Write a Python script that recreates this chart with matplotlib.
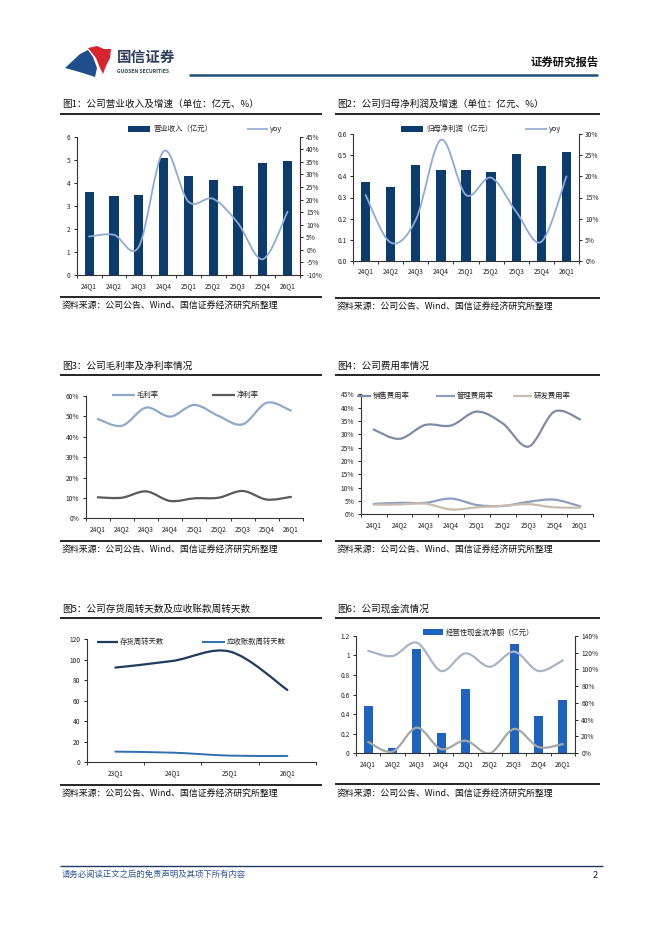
import matplotlib
matplotlib.use("Agg")
import matplotlib.pyplot as plt
import numpy as np
from matplotlib.path import Path
from matplotlib.patches import PathPatch, Rectangle, Polygon
from matplotlib.lines import Line2D

plt.rcParams['font.family'] = ['Noto Sans CJK SC', 'DejaVu Sans']
plt.rcParams['axes.unicode_minus'] = False

# ---------------- data ----------------
quarters = ['24Q1', '24Q2', '24Q3', '24Q4', '25Q1', '25Q2', '25Q3', '25Q4', '26Q1']

revenue = [3.60, 3.42, 3.48, 5.07, 4.30, 4.12, 3.86, 4.88, 4.95]
revenue_yoy = [5.3, 6.0, 1.2, 39.2, 19.2, 20.3, 10.6, -3.7, 15.2]

net_profit = [0.372, 0.351, 0.454, 0.432, 0.430, 0.420, 0.507, 0.451, 0.518]
net_profit_yoy = [15.6, 4.3, 9.7, 28.7, 15.6, 19.7, 11.6, 4.5, 20.0]

gross_margin = [48.7, 45.4, 54.3, 49.9, 55.6, 50.2, 46.1, 56.7, 52.8]
net_margin = [10.3, 10.1, 13.2, 8.5, 9.8, 10.1, 13.4, 9.2, 10.5]

selling_rate = [31.8, 28.3, 33.5, 33.3, 38.5, 34.1, 25.4, 38.5, 35.6]
admin_rate = [3.9, 4.3, 4.3, 5.9, 3.5, 3.1, 4.7, 5.5, 3.0]
rd_rate = [3.6, 3.7, 4.0, 1.8, 2.6, 3.2, 3.8, 2.6, 2.5]

turnover_periods = ['23Q1', '24Q1', '25Q1', '26Q1']
inventory_days = [92.4, 98.9, 108.0, 70.6]
receivable_days = [10.4, 9.4, 6.5, 6.2]

op_cashflow = [0.483, 0.051, 1.064, 0.211, 0.653, 0.0, 1.111, 0.377, 0.544]
cash_ratio_upper = [122.0, 115.8, 131.7, 98.0, 119.0, 103.0, 121.0, 98.0, 110.6]
cash_ratio_lower = [13.5, 2.0, 30.5, 5.0, 15.0, 0.0, 29.0, 7.5, 11.0]

# ---------------- figure helpers ----------------
W, H = 662, 936
fig = plt.figure(figsize=(W / 100, H / 100), dpi=100)
fig.patch.set_facecolor('white')


def fx(x):
    return x / W


def fy(y):
    return 1 - y / H


def add_axes(x0, y0, x1, y1):
    return fig.add_axes([fx(x0), fy(y1), (x1 - x0) / W, (y1 - y0) / H])


def hline(x0, x1, y, color='black', lw=1.0):
    fig.add_artist(Line2D([fx(x0), fx(x1)], [fy(y), fy(y)], color=color, lw=lw,
                          transform=fig.transFigure, solid_capstyle='butt'))


def text(x, y, s, size=6.5, color='black', ha='left', va='center', **kw):
    fig.text(fx(x), fy(y), s, fontsize=size, color=color, ha=ha, va=va, **kw)


def legend_line(x0, x1, y, label, color, lw=1.5):
    hline(x0, x1, y, color=color, lw=lw)
    text(x1 + 2, y, label, size=5.3, color='#222222')


def legend_bar(x0, x1, y, label, color):
    fig.add_artist(Rectangle((fx(x0), fy(y + 3)), (x1 - x0) / W, 6 / H,
                             facecolor=color, edgecolor='none', transform=fig.transFigure))
    text(x1 + 3, y, label, size=5.3, color='#222222')


def smooth(ax, xs, ys, color, lw=1.5, zorder=3):
    pts = np.column_stack([np.asarray(xs, float), np.asarray(ys, float)])
    n = len(pts)
    verts = [pts[0]]
    codes = [Path.MOVETO]
    for i in range(n - 1):
        p0 = pts[i - 1] if i > 0 else pts[i]
        p1 = pts[i]
        p2 = pts[i + 1]
        p3 = pts[i + 2] if i + 2 < n else pts[i + 1]
        c1 = p1 + (p2 - p0) / 6.0
        c2 = p2 - (p3 - p1) / 6.0
        verts += [c1, c2, p2]
        codes += [Path.CURVE4] * 3
    patch = PathPatch(Path(verts, codes), facecolor='none', edgecolor=color,
                      lw=lw, zorder=zorder, capstyle='round', joinstyle='round')
    ax.add_patch(patch)
    return patch


TICK_FS = 4.8
SPINE_C = '#333333'


def style_axes(ax, ncat, right=False):
    for s in ['top', 'right']:
        ax.spines[s].set_visible(False)
    ax.spines['left'].set_color(SPINE_C)
    ax.spines['bottom'].set_color(SPINE_C)
    ax.spines['left'].set_linewidth(0.8)
    ax.spines['bottom'].set_linewidth(0.8)
    ax.set_xlim(-0.5, ncat - 0.5)
    ax.set_xticks(np.arange(ncat))
    ax.set_xticks(np.arange(ncat + 1) - 0.5, minor=True)
    ax.tick_params(axis='x', which='major', length=0, labelsize=TICK_FS, pad=5, colors='#222222')
    ax.tick_params(axis='x', which='minor', length=2.5, width=0.7, color=SPINE_C, direction='out')
    ax.tick_params(axis='y', length=2.5, width=0.7, labelsize=TICK_FS, pad=2, colors='#222222',
                   direction='out')
    ax.patch.set_alpha(0)


def style_twin(ax2):
    for s in ['top', 'left', 'bottom']:
        ax2.spines[s].set_visible(False)
    ax2.spines['right'].set_color(SPINE_C)
    ax2.spines['right'].set_linewidth(0.8)
    ax2.tick_params(axis='y', length=2.5, width=0.7, labelsize=TICK_FS, pad=2, colors='#222222',
                    direction='out')


def pct_labels(vals):
    return [f'{v:g}%' for v in vals]


SRC = '资料来源：公司公告、Wind、国信证券经济研究所整理'

# ---------------- header ----------------
fig.add_artist(Polygon([(fx(65), fy(68)), (fx(80), fy(54)), (fx(88), fy(50)), (fx(93), fy(57)),
                        (fx(97), fy(68)), (fx(95), fy(77)), (fx(86), fy(74)), (fx(76), fy(71))],
                       closed=True, facecolor='#1F4E8C', edgecolor='none', transform=fig.transFigure))
fig.add_artist(Polygon([(fx(88), fy(48)), (fx(97), fy(46)), (fx(104), fy(49)), (fx(111), fy(49)),
                        (fx(110), fy(58)), (fx(106), fy(66)), (fx(103), fy(74)), (fx(100), fy(68)),
                        (fx(96), fy(58))],
                       closed=True, facecolor='#D7242E', edgecolor='none', transform=fig.transFigure))
text(117, 57, '国信证券', size=10.5, color='#2C3E5C', weight='bold')
text(117, 71.5, 'GUOSEN SECURITIES', size=3.6, color='#2C3E5C', weight='bold')
text(599, 62.5, '证券研究报告', size=8.2, color='#111111', ha='right', weight='bold')
hline(189, 598, 75, color='#1F4E79', lw=1.8)

# ---------------- footer ----------------
hline(60, 603, 866, color='#1F3864', lw=1.0)
text(62, 874, '请务必阅读正文之后的免责声明及其项下所有内容', size=6.0, color='#2F5597', style='italic')
text(598, 875, '2', size=6.5, color='#222222', ha='right')


def frame(x0, x1, title_y, title_line_y, src_line_y, src_y, title):
    text(x0 + 2, title_y, title, size=6.9, color='#111111')
    hline(x0, x1, title_line_y, color='black', lw=1.2)
    hline(x0, x1, src_line_y, color='black', lw=1.2)
    text(x0 + 2, src_y, SRC, size=6.4, color='#111111')


# ---------------- chart 1 ----------------
frame(60, 322, 104, 113.5, 296.5, 306.5, '图1：公司营业收入及增速（单位：亿元、%）')
ax1 = add_axes(76.7, 136.7, 300, 275)
x = np.arange(len(quarters))
ax1.bar(x, revenue, width=0.37, color='#0C3C6E', zorder=2)
ax1.set_ylim(0, 6)
ax1.set_yticks(np.arange(0, 7, 1))
style_axes(ax1, len(quarters))
ax1.set_xticklabels(quarters)
ax1b = ax1.twinx()
ax1b.set_ylim(-10, 45)
ax1b.set_yticks(np.arange(-10, 50, 5))
ax1b.set_yticklabels(pct_labels(np.arange(-10, 50, 5)))
style_twin(ax1b)
smooth(ax1b, x, revenue_yoy, '#8FAAD6', lw=1.3)
legend_bar(128, 150, 129, '营业收入（亿元）', '#0C3C6E')
legend_line(247, 268, 129, 'yoy', '#8FAAD6', lw=1.2)

# ---------------- chart 2 ----------------
frame(335, 600, 104, 113.5, 297.5, 307, '图2：公司归母净利润及增速（单位：亿元、%）')
ax2 = add_axes(353, 134.3, 579, 260.7)
ax2.bar(x, net_profit, width=0.37, color='#0C3C6E', zorder=2)
ax2.set_ylim(0, 0.6)
ax2.set_yticks(np.arange(0, 0.61, 0.1))
ax2.set_yticklabels([f'{v:.1f}' for v in np.arange(0, 0.61, 0.1)])
style_axes(ax2, len(quarters))
ax2.set_xticklabels(quarters)
ax2b = ax2.twinx()
ax2b.set_ylim(0, 30)
ax2b.set_yticks(np.arange(0, 31, 5))
ax2b.set_yticklabels(pct_labels(np.arange(0, 31, 5)))
style_twin(ax2b)
smooth(ax2b, x, net_profit_yoy, '#8FAAD6', lw=1.3)
legend_bar(401, 423, 129, '归母净利润（亿元）', '#0C3C6E')
legend_line(525, 547, 129, 'yoy', '#8FAAD6', lw=1.2)

# ---------------- chart 3 ----------------
frame(60, 322, 366, 375, 541, 550, '图3：公司毛利率及净利率情况')
ax3 = add_axes(85.7, 396, 303, 518.3)
ax3.set_ylim(0, 60)
ax3.set_yticks(np.arange(0, 61, 10))
ax3.set_yticklabels(pct_labels(np.arange(0, 61, 10)))
style_axes(ax3, len(quarters))
ax3.set_xticklabels(quarters)
smooth(ax3, x, gross_margin, '#8EA9CB', lw=1.6)
smooth(ax3, x, net_margin, '#5A5A5A', lw=1.6)
legend_line(112, 135, 395, '毛利率', '#8EA9CB', lw=1.6)
legend_line(212, 235, 395, '净利率', '#5A5A5A', lw=1.6)

# ---------------- chart 4 ----------------
frame(335, 600, 366, 375, 541, 550, '图4：公司费用率情况')
ax4 = add_axes(360.7, 394.3, 593, 514.3)
ax4.set_ylim(0, 45)
ax4.set_yticks(np.arange(0, 46, 5))
ax4.set_yticklabels(pct_labels(np.arange(0, 46, 5)))
style_axes(ax4, len(quarters))
ax4.set_xticklabels(quarters)
smooth(ax4, x, selling_rate, '#7D8BA6', lw=1.6)
smooth(ax4, x, admin_rate, '#8D9FBC', lw=1.6)
smooth(ax4, x, rd_rate, '#C8BCAC', lw=1.6)
legend_line(357, 371, 395.5, '销售费用率', '#7D8BA6', lw=1.6)
legend_line(436, 455, 395.5, '管理费用率', '#8D9FBC', lw=1.6)
legend_line(513, 532, 395.5, '研发费用率', '#C8BCAC', lw=1.6)

# ---------------- chart 5 ----------------
frame(60, 322, 609, 617.5, 785, 794, '图5：公司存货周转天数及应收账款周转天数')
ax5 = add_axes(86.7, 639.3, 316, 762.3)
x5 = np.arange(len(turnover_periods))
ax5.set_ylim(0, 120)
ax5.set_yticks(np.arange(0, 121, 20))
style_axes(ax5, len(turnover_periods))
ax5.set_xticklabels(turnover_periods)
smooth(ax5, x5, inventory_days, '#1F3A5F', lw=1.6)
smooth(ax5, x5, receivable_days, '#2E6FAF', lw=1.4)
legend_line(97, 118, 642.3, '存货周转天数', '#1F3A5F', lw=1.6)
legend_line(202, 225, 642.3, '应收账款周转天数', '#2E6FAF', lw=1.4)

# ---------------- chart 6 ----------------
frame(335, 600, 609, 617.5, 784, 794, '图6：公司现金流情况')
ax6 = add_axes(356, 635.7, 575, 753.3)
ax6.bar(x, op_cashflow, width=0.38, color='#1E63BF', zorder=2)
ax6.set_ylim(0, 1.2)
ax6.set_yticks(np.arange(0, 1.21, 0.2))
ax6.set_yticklabels(['0', '0.2', '0.4', '0.6', '0.8', '1', '1.2'])
style_axes(ax6, len(quarters))
ax6.set_xticklabels(quarters)
ax6b = ax6.twinx()
ax6b.set_ylim(0, 140)
ax6b.set_yticks(np.arange(0, 141, 20))
ax6b.set_yticklabels(pct_labels(np.arange(0, 141, 20)))
style_twin(ax6b)
smooth(ax6b, x, cash_ratio_upper, '#A9B4C8', lw=1.6)
smooth(ax6b, x, cash_ratio_lower, '#A6A6A6', lw=1.6)
legend_bar(423, 443, 632.3, '经营性现金流净额（亿元）', '#1E63BF')

fig.savefig('out.png', dpi=100, facecolor='white')
